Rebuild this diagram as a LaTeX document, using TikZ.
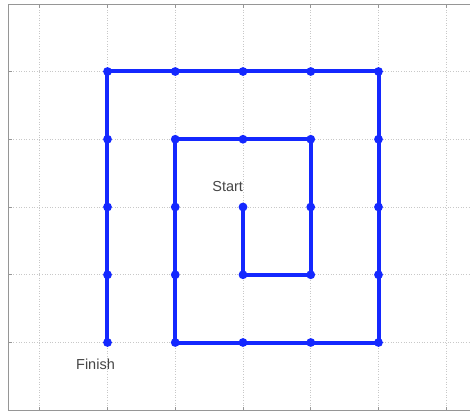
\documentclass[tikz,border=0pt]{standalone}
\usepackage{fontspec}
\setmainfont{Liberation Sans}
\definecolor{pathblue}{RGB}{20,40,255}
\definecolor{boxgray}{RGB}{150,150,150}
\definecolor{gridgray}{RGB}{200,200,200}
\definecolor{txtgray}{RGB}{70,70,70}
\begin{document}
\begin{tikzpicture}[x=67.75pt,y=67.75pt,
  gridline/.style={gridgray,line width=0.6pt,dotted},
  boxline/.style={boxgray,line width=0.9pt},
  tickline/.style={boxgray,line width=0.7pt},
  spiral/.style={pathblue,line width=4pt,line join=round},
  dot/.style={circle,fill=pathblue,inner sep=0pt,minimum size=8.8pt},
  lbl/.style={txtgray,font=\fontsize{14.5}{16}\selectfont,inner sep=0pt}]
\useasboundingbox (-243pt,-205pt) rectangle (227pt,207pt);
% grid
\foreach \i in {-3,...,3} \draw[gridline] (\i,202.3pt) -- (\i,-203pt);
\foreach \j in {-2,...,2} \draw[gridline] (-234.7pt,\j) -- (227pt,\j);
% box
\draw[boxline] (240pt,202.3pt) -- (-234.7pt,202.3pt) -- (-234.7pt,-203pt) -- (240pt,-203pt);
% ticks
\foreach \i in {-3,...,3} {
  \draw[tickline] (\i,202.3pt) -- ++(0,-3.5pt);
  \draw[tickline] (\i,-203pt) -- ++(0,3.5pt);
}
\foreach \j in {-2,...,2} \draw[tickline] (-234.7pt,\j) -- ++(3.5pt,0);
% spiral points
\foreach \n/\p in {1/{0,0},2/{0,-1},3/{1,-1},4/{1,0},5/{1,1},6/{0,1},7/{-1,1},8/{-1,0},9/{-1,-1},10/{-1,-2},11/{0,-2},12/{1,-2},13/{2,-2},14/{2,-1},15/{2,0},16/{2,1},17/{2,2},18/{1,2},19/{0,2},20/{-1,2},21/{-2,2},22/{-2,1},23/{-2,0},24/{-2,-1},25/{-2,-2}}
  \coordinate (p\n) at (\p);
\draw[spiral] (p1) -- (p2) -- (p3) -- (p4) -- (p5) -- (p6) -- (p7) -- (p8) -- (p9) -- (p10) -- (p11) -- (p12) -- (p13) -- (p14) -- (p15) -- (p16) -- (p17) -- (p18) -- (p19) -- (p20) -- (p21) -- (p22) -- (p23) -- (p24) -- (p25);
\foreach \n in {1,...,25} \node[dot] (d\n) at (p\n) {};
% labels
\node[lbl,anchor=east] (start) at (0.2pt,20pt) {Start};
\node[lbl] (finish) at (-147.5pt,-157pt) {Finish};
\end{tikzpicture}
\end{document}
